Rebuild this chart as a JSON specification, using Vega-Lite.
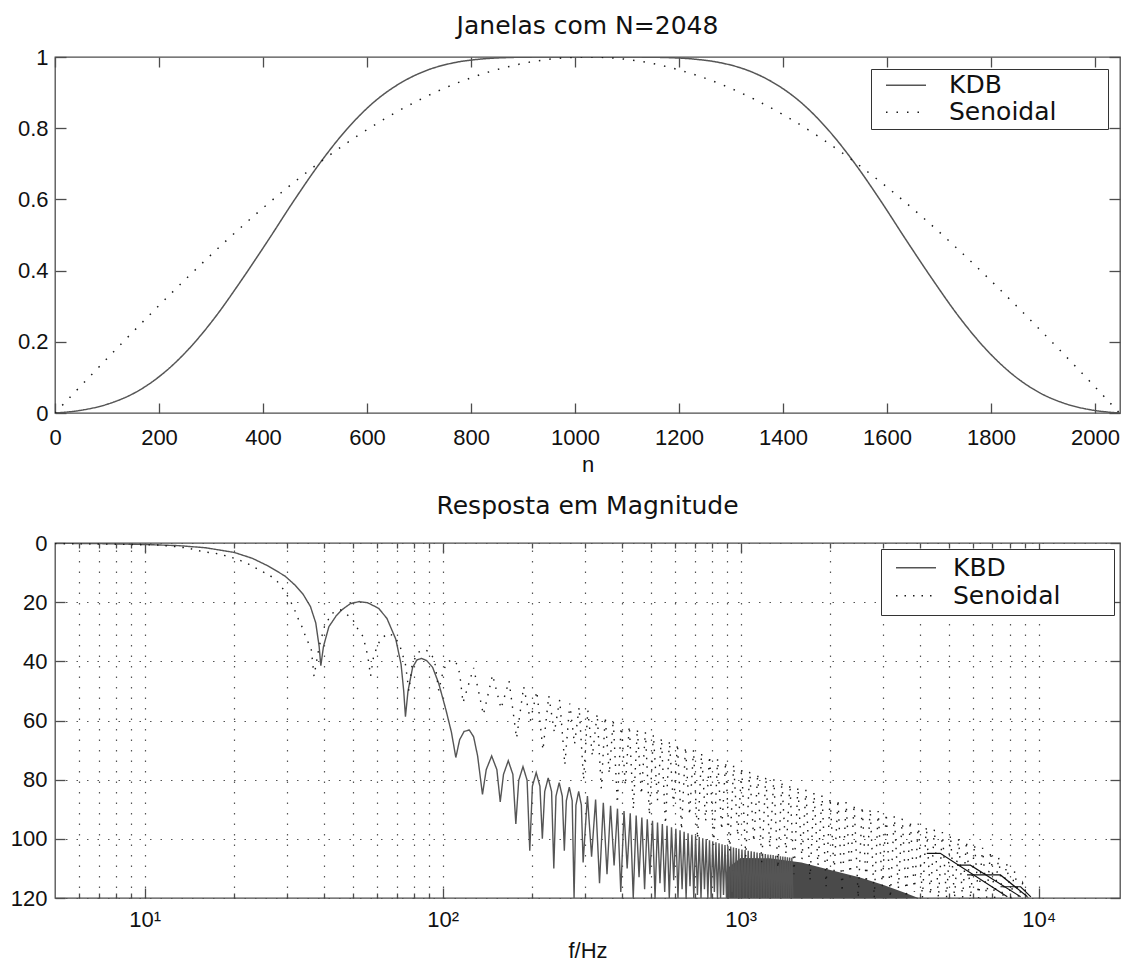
{
  "$schema": "https://vega.github.io/schema/vega-lite/v6.json",
  "background": "white",
  "padding": {"left": 9, "top": 13, "right": 5, "bottom": 1},
  "spacing": 17,
  "resolve": {"scale": {"color": "independent", "strokeDash": "independent"}},
  "config": {
    "view": {"stroke": "#4d4d4d", "strokeWidth": 1.3},
    "axis": {"domain": false, "tickColor": "#4d4d4d", "tickWidth": 1.3, "labelFont": "Liberation Sans", "labelFontSize": 22, "labelColor": "#111", "titleFont": "Liberation Sans", "titleFontSize": 22, "titleFontWeight": "normal", "titleColor": "#111", "grid": false, "labelFlush": false, "labelOverlap": false},
    "title": {"font": "DejaVu Sans", "fontSize": 25, "fontWeight": "normal", "color": "#111"}
  },
  "datasets": {
    "top": [
      {"s":"KDB","n":0,"w":0},{"s":"KDB","n":51,"w":0.0079},{"s":"KDB","n":102,"w":0.0253},{"s":"KDB","n":154,"w":0.0573},{"s":"KDB","n":205,"w":0.1076},{"s":"KDB","n":256,"w":0.1779},{"s":"KDB","n":307,"w":0.2672},{"s":"KDB","n":358,"w":0.3719},{"s":"KDB","n":410,"w":0.4854},{"s":"KDB","n":461,"w":0.5999},{"s":"KDB","n":512,"w":0.7071},{"s":"KDB","n":563,"w":0.8001},{"s":"KDB","n":614,"w":0.8743},{"s":"KDB","n":666,"w":0.9283},{"s":"KDB","n":717,"w":0.9636},{"s":"KDB","n":768,"w":0.9841},{"s":"KDB","n":819,"w":0.9942},{"s":"KDB","n":870,"w":0.9984},{"s":"KDB","n":922,"w":0.9997},{"s":"KDB","n":973,"w":1},{"s":"KDB","n":1024,"w":1},{"s":"KDB","n":1074,"w":1},{"s":"KDB","n":1125,"w":0.9997},{"s":"KDB","n":1177,"w":0.9984},{"s":"KDB","n":1228,"w":0.9942},{"s":"KDB","n":1279,"w":0.9841},{"s":"KDB","n":1330,"w":0.9636},{"s":"KDB","n":1381,"w":0.9283},{"s":"KDB","n":1433,"w":0.8743},{"s":"KDB","n":1484,"w":0.8001},{"s":"KDB","n":1535,"w":0.7071},{"s":"KDB","n":1586,"w":0.5999},{"s":"KDB","n":1637,"w":0.4854},{"s":"KDB","n":1689,"w":0.3719},{"s":"KDB","n":1740,"w":0.2672},{"s":"KDB","n":1791,"w":0.1779},{"s":"KDB","n":1842,"w":0.1076},{"s":"KDB","n":1893,"w":0.0573},{"s":"KDB","n":1945,"w":0.0253},{"s":"KDB","n":1996,"w":0.0079},{"s":"KDB","n":2047,"w":0},
      {"s":"Senoidal","n":0,"w":0},{"s":"Senoidal","n":64,"w":0.098},{"s":"Senoidal","n":128,"w":0.1951},{"s":"Senoidal","n":192,"w":0.2903},{"s":"Senoidal","n":256,"w":0.3827},{"s":"Senoidal","n":320,"w":0.4714},{"s":"Senoidal","n":384,"w":0.5556},{"s":"Senoidal","n":448,"w":0.6344},{"s":"Senoidal","n":512,"w":0.7071},{"s":"Senoidal","n":576,"w":0.773},{"s":"Senoidal","n":640,"w":0.8315},{"s":"Senoidal","n":704,"w":0.8819},{"s":"Senoidal","n":768,"w":0.9239},{"s":"Senoidal","n":832,"w":0.9569},{"s":"Senoidal","n":896,"w":0.9808},{"s":"Senoidal","n":960,"w":0.9952},{"s":"Senoidal","n":1024,"w":1},{"s":"Senoidal","n":1088,"w":0.9952},{"s":"Senoidal","n":1152,"w":0.9808},{"s":"Senoidal","n":1216,"w":0.9569},{"s":"Senoidal","n":1280,"w":0.9239},{"s":"Senoidal","n":1344,"w":0.8819},{"s":"Senoidal","n":1408,"w":0.8315},{"s":"Senoidal","n":1472,"w":0.773},{"s":"Senoidal","n":1536,"w":0.7071},{"s":"Senoidal","n":1600,"w":0.6344},{"s":"Senoidal","n":1664,"w":0.5556},{"s":"Senoidal","n":1728,"w":0.4714},{"s":"Senoidal","n":1792,"w":0.3827},{"s":"Senoidal","n":1856,"w":0.2903},{"s":"Senoidal","n":1920,"w":0.1951},{"s":"Senoidal","n":1984,"w":0.098},{"s":"Senoidal","n":2047,"w":0}
    ],
    "mag": [
      {"s":"KBD","f":5,"d":0.1},{"s":"KBD","f":7,"d":0.2},{"s":"KBD","f":10,"d":0.5},{"s":"KBD","f":13,"d":0.9},{"s":"KBD","f":16,"d":1.6},{"s":"KBD","f":20,"d":3.2},{"s":"KBD","f":23,"d":5.2},{"s":"KBD","f":26,"d":7.8},{"s":"KBD","f":29.6,"d":11.2},{"s":"KBD","f":32,"d":14.3},{"s":"KBD","f":34,"d":17.3},{"s":"KBD","f":36,"d":21.5},{"s":"KBD","f":37.5,"d":27},{"s":"KBD","f":38.5,"d":35},{"s":"KBD","f":39,"d":41.5},{"s":"KBD","f":39.8,"d":35},{"s":"KBD","f":41.5,"d":28.3},{"s":"KBD","f":44,"d":24.5},{"s":"KBD","f":46,"d":22.5},{"s":"KBD","f":49,"d":20.5},{"s":"KBD","f":52.4,"d":19.8},{"s":"KBD","f":56,"d":20.2},{"s":"KBD","f":61,"d":22.1},{"s":"KBD","f":65,"d":25.5},{"s":"KBD","f":69.6,"d":32.5},{"s":"KBD","f":72.5,"d":41},{"s":"KBD","f":74,"d":50},{"s":"KBD","f":75,"d":58.7},{"s":"KBD","f":76.5,"d":50},{"s":"KBD","f":79.3,"d":42},{"s":"KBD","f":82,"d":39.5},{"s":"KBD","f":85,"d":39},{"s":"KBD","f":88.5,"d":39.8},{"s":"KBD","f":92.5,"d":42},{"s":"KBD","f":97,"d":47.5},{"s":"KBD","f":102.6,"d":56.5},{"s":"KBD","f":107,"d":64},{"s":"KBD","f":110.7,"d":72.5},{"s":"KBD","f":114,"d":66.5},{"s":"KBD","f":118,"d":63.7},{"s":"KBD","f":122.8,"d":63.2},{"s":"KBD","f":127,"d":65.5},{"s":"KBD","f":131,"d":72},{"s":"KBD","f":136,"d":85},
      {"s":"KBD","f":140,"d":76.6},{"s":"KBD","f":146,"d":72},{"s":"KBD","f":152,"d":76.6},{"s":"KBD","f":156,"d":87.5},
      {"s":"KBD","f":160,"d":78.2},{"s":"KBD","f":166,"d":73.6},{"s":"KBD","f":172,"d":78.2},{"s":"KBD","f":176,"d":95},
      {"s":"KBD","f":180,"d":80.2},{"s":"KBD","f":186,"d":75.6},{"s":"KBD","f":192,"d":80.2},{"s":"KBD","f":196,"d":104},
      {"s":"KBD","f":200,"d":82.2},{"s":"KBD","f":206,"d":77.6},{"s":"KBD","f":212,"d":82.2},{"s":"KBD","f":216,"d":100},
      {"s":"KBD","f":220,"d":84},{"s":"KBD","f":226,"d":79.4},{"s":"KBD","f":232,"d":84},{"s":"KBD","f":236,"d":110},
      {"s":"KBD","f":240,"d":85.6},{"s":"KBD","f":246,"d":81},{"s":"KBD","f":252,"d":85.6},{"s":"KBD","f":256,"d":104},
      {"s":"KBD","f":260,"d":87.1},{"s":"KBD","f":266,"d":82.5},{"s":"KBD","f":272,"d":87.1},{"s":"KBD","f":276,"d":120},
      {"s":"KBD","f":280,"d":88.6},{"s":"KBD","f":286,"d":84},{"s":"KBD","f":292,"d":88.6},{"s":"KBD","f":296,"d":108},
      {"s":"KBD","f":306,"d":85.5},{"s":"KBD","f":316,"d":106},{"s":"KBD","f":326,"d":86.7},{"s":"KBD","f":336,"d":115},{"s":"KBD","f":346,"d":87.8},{"s":"KBD","f":356,"d":112},{"s":"KBD","f":366,"d":88.8},{"s":"KBD","f":376,"d":109},{"s":"KBD","f":386,"d":89.8},{"s":"KBD","f":396,"d":118},{"s":"KBD","f":406,"d":90.6},{"s":"KBD","f":416,"d":110},{"s":"KBD","f":426,"d":91.4},{"s":"KBD","f":436,"d":120},{"s":"KBD","f":446,"d":92.1},{"s":"KBD","f":456,"d":113},{"s":"KBD","f":466,"d":92.8},{"s":"KBD","f":476,"d":117},{"s":"KBD","f":486,"d":93.4},{"s":"KBD","f":496,"d":112},{"s":"KBD","f":506,"d":93.9},{"s":"KBD","f":516,"d":120},{"s":"KBD","f":526,"d":94.5},{"s":"KBD","f":536,"d":115},{"s":"KBD","f":546,"d":95},{"s":"KBD","f":556,"d":118},{"s":"KBD","f":566,"d":95.6},{"s":"KBD","f":576,"d":120},{"s":"KBD","f":586,"d":96.1},{"s":"KBD","f":596,"d":114},{"s":"KBD","f":606,"d":96.6},{"s":"KBD","f":616,"d":120},{"s":"KBD","f":626,"d":97.1},{"s":"KBD","f":636,"d":117},{"s":"KBD","f":646,"d":97.6},{"s":"KBD","f":656,"d":120},{"s":"KBD","f":666,"d":98.1},{"s":"KBD","f":676,"d":116},{"s":"KBD","f":686,"d":98.6},{"s":"KBD","f":696,"d":120},{"s":"KBD","f":706,"d":99},{"s":"KBD","f":716,"d":119},{"s":"KBD","f":726,"d":99.4},{"s":"KBD","f":736,"d":120},{"s":"KBD","f":746,"d":99.8},{"s":"KBD","f":756,"d":117},{"s":"KBD","f":766,"d":100.1},{"s":"KBD","f":776,"d":120},{"s":"KBD","f":786,"d":100.5},{"s":"KBD","f":796,"d":120},{"s":"KBD","f":806,"d":100.8},{"s":"KBD","f":816,"d":118},{"s":"KBD","f":826,"d":101.2},{"s":"KBD","f":836,"d":120},{"s":"KBD","f":846,"d":101.5},{"s":"KBD","f":856,"d":120},{"s":"KBD","f":866,"d":101.8},{"s":"KBD","f":876,"d":119},{"s":"KBD","f":886,"d":102.1},{"s":"KBD","f":896,"d":120},{"s":"KBD","f":906,"d":102.4},{"s":"KBD","f":916,"d":120},{"s":"KBD","f":926,"d":102.6},{"s":"KBD","f":936,"d":118},{"s":"KBD","f":946,"d":102.9},{"s":"KBD","f":956,"d":120},{"s":"KBD","f":966,"d":103.1},{"s":"KBD","f":976,"d":120},{"s":"KBD","f":986,"d":103.4},{"s":"KBD","f":996,"d":120},
      {"s":"KBD","f":1010,"d":103.6},{"s":"KBD","f":1022,"d":120},{"s":"KBD","f":1035,"d":103.8},{"s":"KBD","f":1047,"d":120},{"s":"KBD","f":1060,"d":104},{"s":"KBD","f":1072,"d":120},{"s":"KBD","f":1085,"d":104.2},{"s":"KBD","f":1097,"d":120},{"s":"KBD","f":1110,"d":104.4},{"s":"KBD","f":1122,"d":120},{"s":"KBD","f":1135,"d":104.6},{"s":"KBD","f":1147,"d":120},{"s":"KBD","f":1160,"d":104.8},{"s":"KBD","f":1172,"d":120},{"s":"KBD","f":1185,"d":105},{"s":"KBD","f":1197,"d":120},{"s":"KBD","f":1210,"d":105.1},{"s":"KBD","f":1222,"d":120},{"s":"KBD","f":1235,"d":105.3},{"s":"KBD","f":1247,"d":120},{"s":"KBD","f":1260,"d":105.4},{"s":"KBD","f":1272,"d":120},{"s":"KBD","f":1285,"d":105.5},{"s":"KBD","f":1297,"d":120},{"s":"KBD","f":1310,"d":105.7},{"s":"KBD","f":1322,"d":120},{"s":"KBD","f":1335,"d":105.8},{"s":"KBD","f":1347,"d":120},{"s":"KBD","f":1360,"d":105.9},{"s":"KBD","f":1372,"d":120},{"s":"KBD","f":1385,"d":106},{"s":"KBD","f":1397,"d":120},{"s":"KBD","f":1410,"d":106.1},{"s":"KBD","f":1422,"d":120},{"s":"KBD","f":1435,"d":106.2},{"s":"KBD","f":1447,"d":120},{"s":"KBD","f":1460,"d":106.3},{"s":"KBD","f":1472,"d":120},{"s":"KBD","f":1485,"d":106.4},{"s":"KBD","f":1497,"d":120},
      {"s":"Senoidal","f":5,"d":0.2},{"s":"Senoidal","f":8,"d":0.4},{"s":"Senoidal","f":11.1,"d":0.7},{"s":"Senoidal","f":12.6,"d":1.2},{"s":"Senoidal","f":14.1,"d":1.8},{"s":"Senoidal","f":15.6,"d":2.9},{"s":"Senoidal","f":17.3,"d":3.5},{"s":"Senoidal","f":19.2,"d":4.6},{"s":"Senoidal","f":20.7,"d":5.7},{"s":"Senoidal","f":22.4,"d":7.2},{"s":"Senoidal","f":24.2,"d":9.1},{"s":"Senoidal","f":26.2,"d":10.8},{"s":"Senoidal","f":27.9,"d":13.1},{"s":"Senoidal","f":29.3,"d":15.9},{"s":"Senoidal","f":30.5,"d":18.7},{"s":"Senoidal","f":31.7,"d":22.1},{"s":"Senoidal","f":32.8,"d":25.8},{"s":"Senoidal","f":33.9,"d":28.8},{"s":"Senoidal","f":34.8,"d":32.2},{"s":"Senoidal","f":36.2,"d":35.6},{"s":"Senoidal","f":37,"d":45},{"s":"Senoidal","f":38.5,"d":35},{"s":"Senoidal","f":40.1,"d":28.3},{"s":"Senoidal","f":42.4,"d":23.8},{"s":"Senoidal","f":45.4,"d":22.6},{"s":"Senoidal","f":49.7,"d":25.5},{"s":"Senoidal","f":51.7,"d":28.8},{"s":"Senoidal","f":54.1,"d":31.7},{"s":"Senoidal","f":56,"d":38},{"s":"Senoidal","f":57.3,"d":45},{"s":"Senoidal","f":58.7,"d":38},{"s":"Senoidal","f":61.6,"d":32.8},{"s":"Senoidal","f":65.4,"d":30.5},{"s":"Senoidal","f":69,"d":31.5},{"s":"Senoidal","f":72,"d":35},{"s":"Senoidal","f":75,"d":41},{"s":"Senoidal","f":77,"d":50},{"s":"Senoidal","f":79,"d":41},{"s":"Senoidal","f":82.5,"d":37},{"s":"Senoidal","f":87,"d":36},{"s":"Senoidal","f":91,"d":37},{"s":"Senoidal","f":94,"d":40},{"s":"Senoidal","f":97,"d":50},{"s":"Senoidal","f":100,"d":44},{"s":"Senoidal","f":103,"d":40.5},{"s":"Senoidal","f":107,"d":39.5},{"s":"Senoidal","f":111,"d":40.5},{"s":"Senoidal","f":114,"d":44},{"s":"Senoidal","f":117,"d":54},
      {"s":"Senoidal","f":127,"d":42.2},{"s":"Senoidal","f":137,"d":58},{"s":"Senoidal","f":147,"d":44.6},{"s":"Senoidal","f":157,"d":56},{"s":"Senoidal","f":167,"d":46.6},{"s":"Senoidal","f":177,"d":66},{"s":"Senoidal","f":187,"d":48.5},{"s":"Senoidal","f":197,"d":60},{"s":"Senoidal","f":207,"d":50.1},{"s":"Senoidal","f":217,"d":70},{"s":"Senoidal","f":227,"d":51.6},{"s":"Senoidal","f":237,"d":64},{"s":"Senoidal","f":247,"d":53},{"s":"Senoidal","f":257,"d":75},{"s":"Senoidal","f":267,"d":54.3},{"s":"Senoidal","f":277,"d":68},{"s":"Senoidal","f":287,"d":55.5},{"s":"Senoidal","f":297,"d":80},{"s":"Senoidal","f":307,"d":56.6},{"s":"Senoidal","f":318,"d":72},
      {"s":"Senoidal","f":330,"d":57.7},{"s":"Senoidal","f":340.6,"d":83},{"s":"Senoidal","f":351.1,"d":58.7},{"s":"Senoidal","f":362.3,"d":78},{"s":"Senoidal","f":373.6,"d":59.8},{"s":"Senoidal","f":385.6,"d":88},{"s":"Senoidal","f":397.5,"d":60.8},{"s":"Senoidal","f":410.2,"d":82},{"s":"Senoidal","f":422.9,"d":61.8},{"s":"Senoidal","f":436.4,"d":90},{"s":"Senoidal","f":450,"d":62.8},{"s":"Senoidal","f":464.4,"d":85},{"s":"Senoidal","f":478.8,"d":63.8},{"s":"Senoidal","f":494.1,"d":92},{"s":"Senoidal","f":509.4,"d":64.8},{"s":"Senoidal","f":525.7,"d":87},{"s":"Senoidal","f":542,"d":65.8},{"s":"Senoidal","f":559.3,"d":95},{"s":"Senoidal","f":576.7,"d":66.8},{"s":"Senoidal","f":595.1,"d":89},{"s":"Senoidal","f":613.6,"d":67.8},{"s":"Senoidal","f":633.2,"d":97},{"s":"Senoidal","f":652.9,"d":68.9},{"s":"Senoidal","f":673.8,"d":92},{"s":"Senoidal","f":694.7,"d":69.9},{"s":"Senoidal","f":716.9,"d":100},{"s":"Senoidal","f":739.2,"d":70.9},{"s":"Senoidal","f":762.9,"d":94},{"s":"Senoidal","f":786.5,"d":71.9},{"s":"Senoidal","f":811.7,"d":102},{"s":"Senoidal","f":836.8,"d":72.9},{"s":"Senoidal","f":863.6,"d":97},{"s":"Senoidal","f":890.4,"d":73.9},{"s":"Senoidal","f":918.9,"d":104},{"s":"Senoidal","f":947.4,"d":74.9},{"s":"Senoidal","f":977.7,"d":99},{"s":"Senoidal","f":1008,"d":76},{"s":"Senoidal","f":1040,"d":106},{"s":"Senoidal","f":1072.5,"d":77},{"s":"Senoidal","f":1107,"d":101},{"s":"Senoidal","f":1141,"d":77.9},{"s":"Senoidal","f":1177,"d":108},{"s":"Senoidal","f":1214,"d":78.8},{"s":"Senoidal","f":1253,"d":103},{"s":"Senoidal","f":1292,"d":79.7},{"s":"Senoidal","f":1333,"d":110},{"s":"Senoidal","f":1375,"d":80.6},{"s":"Senoidal","f":1419,"d":105},{"s":"Senoidal","f":1463,"d":81.5},{"s":"Senoidal","f":1510,"d":112},{"s":"Senoidal","f":1556,"d":82.4},{"s":"Senoidal","f":1606,"d":107},{"s":"Senoidal","f":1656,"d":83.3},{"s":"Senoidal","f":1709,"d":114},{"s":"Senoidal","f":1762,"d":84.2},{"s":"Senoidal","f":1818,"d":109},{"s":"Senoidal","f":1875,"d":85.1},{"s":"Senoidal","f":1935,"d":116},{"s":"Senoidal","f":1995,"d":86},{"s":"Senoidal","f":2059,"d":111},{"s":"Senoidal","f":2122,"d":86.7},{"s":"Senoidal","f":2190,"d":118},{"s":"Senoidal","f":2258,"d":87.5},{"s":"Senoidal","f":2330,"d":113},{"s":"Senoidal","f":2403,"d":88.3},{"s":"Senoidal","f":2480,"d":120},{"s":"Senoidal","f":2557,"d":89},{"s":"Senoidal","f":2639,"d":115},{"s":"Senoidal","f":2720,"d":89.8},{"s":"Senoidal","f":2807,"d":120},{"s":"Senoidal","f":2894,"d":90.6},{"s":"Senoidal","f":2987,"d":116},{"s":"Senoidal","f":3080,"d":91.4},{"s":"Senoidal","f":3179,"d":120},{"s":"Senoidal","f":3277,"d":92.2},{"s":"Senoidal","f":3382,"d":117},{"s":"Senoidal","f":3486,"d":93.1},{"s":"Senoidal","f":3598,"d":120},{"s":"Senoidal","f":3709,"d":93.9},{"s":"Senoidal","f":3828,"d":118},{"s":"Senoidal","f":3947,"d":94.8},{"s":"Senoidal","f":4073,"d":120},{"s":"Senoidal","f":4200,"d":95.8},{"s":"Senoidal","f":4334,"d":119},{"s":"Senoidal","f":4468,"d":96.7},{"s":"Senoidal","f":4611,"d":120},{"s":"Senoidal","f":4754,"d":97.7},{"s":"Senoidal","f":4906,"d":120},{"s":"Senoidal","f":5058,"d":98.7},{"s":"Senoidal","f":5220,"d":120},{"s":"Senoidal","f":5382,"d":99.7},{"s":"Senoidal","f":5554,"d":120},{"s":"Senoidal","f":5727,"d":100.7},{"s":"Senoidal","f":5910,"d":120},{"s":"Senoidal","f":6093,"d":101.8},{"s":"Senoidal","f":6288,"d":120},{"s":"Senoidal","f":6483,"d":103},{"s":"Senoidal","f":6690,"d":120},{"s":"Senoidal","f":6898,"d":104.2},{"s":"Senoidal","f":7119,"d":120},{"s":"Senoidal","f":7339,"d":106.1},{"s":"Senoidal","f":7574,"d":120},{"s":"Senoidal","f":7809,"d":108.2},{"s":"Senoidal","f":8059,"d":120},{"s":"Senoidal","f":8309,"d":111},{"s":"Senoidal","f":8575,"d":120},{"s":"Senoidal","f":8840,"d":114.9},{"s":"Senoidal","f":9200,"d":120}
    ],
    "fill": [
      {"f":900,"d":110},{"f":1000,"d":106.5},{"f":1250,"d":106.6},{"f":1600,"d":108},{"f":2000,"d":110.5},{"f":2500,"d":113},{"f":3000,"d":115.5},{"f":3500,"d":118},{"f":3950,"d":120}
    ],
    "hatch": [
      {"g":1,"f":4215,"d":104.9},{"g":1,"f":4675,"d":104.9},{"g":1,"f":7850,"d":119.6},
      {"g":2,"f":5320,"d":108.9},{"g":2,"f":5900,"d":108.9},{"g":2,"f":8700,"d":119.6},
      {"g":3,"f":5750,"d":112.2},{"g":3,"f":7445,"d":112.2},{"g":3,"f":9175,"d":119.6},
      {"g":4,"f":7445,"d":116.2},{"g":4,"f":8700,"d":116.2},{"g":4,"f":9415,"d":119.6}
    ]
  },
  "vconcat": [
    {
      "width": 1065,
      "height": 356,
      "title": {"text": "Janelas com N=2048", "offset": 7},
      "layer": [
        {
          "data": {"name": "top"},
          "mark": {"type": "line", "strokeWidth": 1.5, "interpolate": "monotone", "clip": true},
          "encoding": {
            "x": {"field": "n", "type": "quantitative", "scale": {"domain": [0, 2048], "nice": false, "zero": false},
                  "axis": {"orient": "bottom", "values": [0,200,400,600,800,1000,1200,1400,1600,1800,2000], "format": "d", "title": "n", "tickSize": -10, "labelPadding": 24, "titlePadding": 6}},
            "y": {"field": "w", "type": "quantitative", "scale": {"domain": [0, 1], "nice": false},
                  "axis": {"orient": "left", "values": [0,0.2,0.4,0.6,0.8,1], "format": ".1~f", "title": null, "tickSize": -11, "labelPadding": 18}},
            "color": {"field": "s", "type": "nominal", "scale": {"domain": ["KDB", "Senoidal"], "range": ["#555555", "#1a1a1a"]},
                      "legend": {"title": null, "orient": "top-right", "offset": 12, "padding": 3, "strokeColor": "#333", "fillColor": "white", "symbolType": "stroke", "symbolSize": 1600, "symbolStrokeWidth": 1.5, "symbolOffset": 11, "labelOffset": 22, "labelFontSize": 25, "labelFont": "DejaVu Sans", "labelColor": "#111", "labelLimit": 400, "clipHeight": 26.5, "rowPadding": 0, "labelExpr": "datum.label + '\u00a0\u00a0\u00a0\u00a0\u00a0\u00a0\u200b'"}},
            "strokeDash": {"field": "s", "type": "nominal", "scale": {"domain": ["KDB", "Senoidal"], "range": [[1, 0], [1.5, 9]]},
                      "legend": {"title": null, "orient": "top-right", "offset": 12, "padding": 3, "strokeColor": "#333", "fillColor": "white", "symbolType": "stroke", "symbolSize": 1600, "symbolStrokeWidth": 1.5, "symbolOffset": 11, "labelOffset": 22, "labelFontSize": 25, "labelFont": "DejaVu Sans", "labelColor": "#111", "labelLimit": 400, "clipHeight": 26.5, "rowPadding": 0, "labelExpr": "datum.label + '\u00a0\u00a0\u00a0\u00a0\u00a0\u00a0\u200b'"}}
          }
        },
        {
          "data": {"name": "top"},
          "mark": {"type": "point", "opacity": 0},
          "encoding": {
            "x": {"field": "n", "type": "quantitative", "scale": {"domain": [0, 2048], "nice": false, "zero": false},
                  "axis": {"orient": "top", "values": [0,200,400,600,800,1000,1200,1400,1600,1800,2000], "labels": false, "title": null, "tickSize": -10}},
            "y": {"field": "w", "type": "quantitative", "scale": {"domain": [0, 1], "nice": false},
                  "axis": {"orient": "right", "values": [0,0.2,0.4,0.6,0.8,1], "labels": false, "title": null, "tickSize": -11}}
          }
        }
      ]
    },
    {
      "width": 1065,
      "height": 355,
      "title": {"text": "Resposta em Magnitude", "offset": 13},
      "layer": [
        {
          "data": {"name": "fill"},
          "mark": {"type": "area", "color": "#4a4a4a", "clip": true},
          "encoding": {
            "x": {"field": "f", "type": "quantitative", "scale": {"type": "log", "domain": [5, 18750], "nice": false}, "axis": null},
            "y": {"field": "d", "type": "quantitative", "scale": {"domain": [0, 120], "reverse": true, "nice": false}, "axis": null},
            "y2": {"datum": 120}
          }
        },
        {
          "data": {"name": "mag"},
          "mark": {"type": "line", "strokeWidth": 1.4, "clip": true},
          "encoding": {
            "x": {"field": "f", "type": "quantitative", "scale": {"type": "log", "domain": [5, 18750], "nice": false},
                  "axis": {"orient": "bottom", "title": "f/Hz", "values": [6,7,8,9,10,20,30,40,50,60,70,80,90,100,200,300,400,500,600,700,800,900,1000,2000,3000,4000,5000,6000,7000,8000,9000,10000],
                           "labelExpr": "datum.value == 10 ? '10¹' : datum.value == 100 ? '10²' : datum.value == 1000 ? '10³' : datum.value == 10000 ? '10⁴' : ''",
                           "tickSize": {"condition": {"test": "datum.value == 10 || datum.value == 100 || datum.value == 1000 || datum.value == 10000", "value": -10}, "value": -5},
                           "labelPadding": 21, "titlePadding": 5,
                           "grid": true, "gridDash": [1.5, 9], "gridColor": "#555", "gridWidth": 1.2}},
            "y": {"field": "d", "type": "quantitative", "scale": {"domain": [0, 120], "reverse": true, "nice": false},
                  "axis": {"orient": "left", "title": null, "values": [0,20,40,60,80,100,120], "tickSize": -10, "labelPadding": 18,
                           "grid": true, "gridDash": [1.5, 9], "gridColor": "#555", "gridWidth": 1.2}},
            "color": {"field": "s", "type": "nominal", "scale": {"domain": ["KBD", "Senoidal"], "range": ["#555555", "#1a1a1a"]},
                      "legend": {"title": null, "orient": "top-right", "offset": 6, "padding": 5, "strokeColor": "#333", "fillColor": "white", "symbolType": "stroke", "symbolSize": 1600, "symbolStrokeWidth": 1.5, "symbolOffset": 9, "labelOffset": 16, "labelFontSize": 25, "labelFont": "DejaVu Sans", "labelColor": "#111", "labelLimit": 400, "clipHeight": 27.5, "rowPadding": 0, "labelExpr": "datum.label + '\u00a0\u00a0\u00a0\u00a0\u00a0\u00a0\u200b'"}},
            "strokeDash": {"field": "s", "type": "nominal", "scale": {"domain": ["KBD", "Senoidal"], "range": [[1, 0], [1.5, 7]]},
                      "legend": {"title": null, "orient": "top-right", "offset": 6, "padding": 5, "strokeColor": "#333", "fillColor": "white", "symbolType": "stroke", "symbolSize": 1600, "symbolStrokeWidth": 1.5, "symbolOffset": 9, "labelOffset": 16, "labelFontSize": 25, "labelFont": "DejaVu Sans", "labelColor": "#111", "labelLimit": 400, "clipHeight": 27.5, "rowPadding": 0, "labelExpr": "datum.label + '\u00a0\u00a0\u00a0\u00a0\u00a0\u00a0\u200b'"}}
          }
        },
        {
          "data": {"name": "hatch"},
          "mark": {"type": "line", "color": "#111", "strokeWidth": 1.2, "clip": true},
          "encoding": {
            "x": {"field": "f", "type": "quantitative", "scale": {"type": "log", "domain": [5, 18750], "nice": false}, "axis": null},
            "y": {"field": "d", "type": "quantitative", "scale": {"domain": [0, 120], "reverse": true, "nice": false}, "axis": null},
            "detail": {"field": "g", "type": "nominal"}
          }
        },
        {
          "data": {"name": "fill"},
          "mark": {"type": "point", "opacity": 0},
          "encoding": {
            "x": {"field": "f", "type": "quantitative", "scale": {"type": "log", "domain": [5, 18750], "nice": false},
                  "axis": {"orient": "top", "labels": false, "title": null, "values": [6,7,8,9,10,20,30,40,50,60,70,80,90,100,200,300,400,500,600,700,800,900,1000,2000,3000,4000,5000,6000,7000,8000,9000,10000],
                           "tickSize": {"condition": {"test": "datum.value == 10 || datum.value == 100 || datum.value == 1000 || datum.value == 10000", "value": -10}, "value": -5}}},
            "y": {"field": "d", "type": "quantitative", "scale": {"domain": [0, 120], "reverse": true, "nice": false},
                  "axis": {"orient": "right", "labels": false, "title": null, "values": [0,20,40,60,80,100,120], "tickSize": -10}}
          }
        }
      ]
    }
  ]
}
